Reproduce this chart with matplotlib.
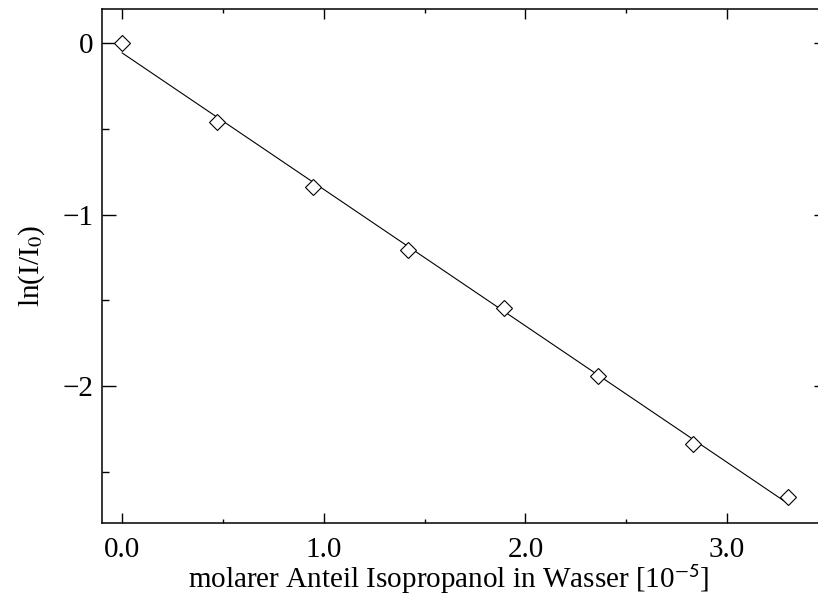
import matplotlib.pyplot as plt
import numpy as np

plt.rcParams['font.family'] = ['Liberation Serif', 'DejaVu Serif']
plt.rcParams['mathtext.fontset'] = 'stix'

# molar fraction of isopropanol [1e-5] and ln(I/I0)
x_frac = np.array([0.0, 0.47, 0.945, 1.417, 1.891, 2.358, 2.832, 3.30])
ln_ratio = np.array([0.0, -0.462, -0.836, -1.203, -1.547, -1.943, -2.335, -2.645])

# linear fit through the points
slope, intercept = np.polyfit(x_frac, ln_ratio, 1)
x_fit = np.array([x_frac.min(), x_frac.max()])

fig = plt.figure(figsize=(8.18, 5.99), dpi=100)
ax = fig.add_axes([0.1247, 0.1264, 0.8875, 0.8586])

ax.plot(x_fit, slope * x_fit + intercept, color='black', lw=0.8)
ax.plot(x_frac, ln_ratio, linestyle='none', marker='D', ms=8,
        mfc='white', mec='black', mew=0.8)

ax.set_xlim(-0.1, 3.5)
ax.set_ylim(-2.8, 0.2)
ax.set_xticks([0.0, 1.0, 2.0, 3.0])
ax.set_xticklabels(['0.0', '1.0', '2.0', '3.0'])
ax.set_xticks([0.5, 1.5, 2.5], minor=True)
ax.set_yticks([0, -1, -2])
ax.set_yticklabels(['0', '\u22121', '\u22122'])
ax.set_yticks([-0.5, -1.5, -2.5], minor=True)

ax.tick_params(axis='both', which='both', direction='in', top=True, right=True,
               labelsize=21, width=1.0)
ax.tick_params(axis='x', which='major', length=7, pad=10)
ax.tick_params(axis='x', which='minor', length=3)
ax.tick_params(axis='y', which='major', length=10, pad=6)
ax.tick_params(axis='y', which='minor', length=5)
for s in ax.spines.values():
    s.set_linewidth(1.1)

ax.set_xlabel('molarer Anteil Isopropanol in Wasser [10$^{\\mathsf{-5}}$]', fontsize=21)
ax.xaxis.set_label_coords(0.477, -0.076)
ax.set_ylabel('ln(I/I$_{\\mathrm{0}}$)', fontsize=21)
ax.yaxis.set_label_coords(-0.076, 0.5)

fig.savefig('out.png', dpi=100)
